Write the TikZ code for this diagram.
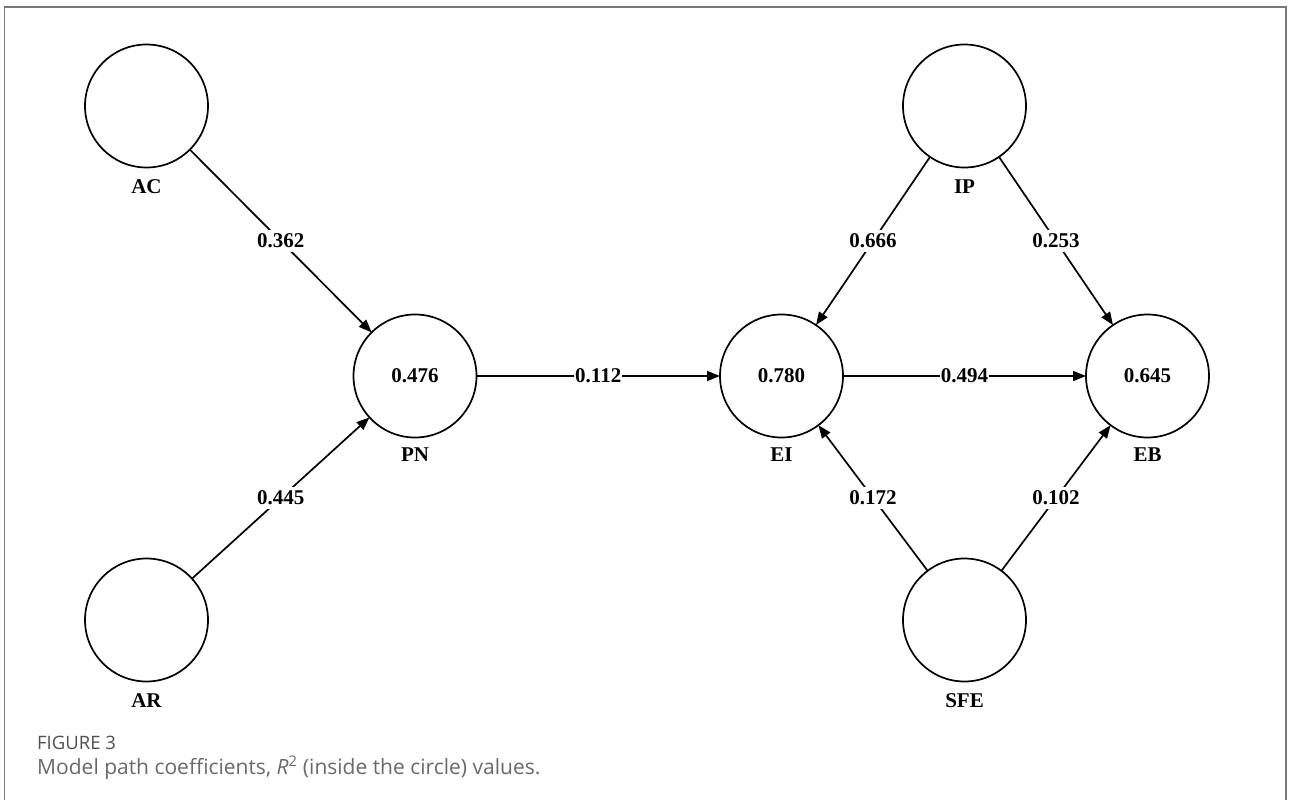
\documentclass[tikz,border=0pt]{standalone}
\usepackage{fontspec}
\setmainfont{Liberation Serif}
\newfontfamily\capfont{Open Sans}
\usetikzlibrary{arrows.meta}
\definecolor{framegray}{RGB}{120,120,120}
\definecolor{capdark}{RGB}{80,80,80}
\definecolor{captext}{RGB}{105,105,105}
\begin{document}
\begin{tikzpicture}[x=1pt,y=-1pt,
  lv/.style={circle,draw,line width=1.7pt,minimum size=123pt,inner sep=0pt,outer sep=0pt,
    font=\fontsize{21}{24}\selectfont\bfseries},
  nm/.style={inner sep=0pt,font=\fontsize{21}{24}\selectfont\bfseries},
  pathline/.style={line width=1.7pt,-{Triangle[length=13pt,width=10pt]}},
  coef/.style={fill=white,inner sep=4pt,font=\fontsize{21}{24}\selectfont\bfseries},
  framestyle/.style={draw=framegray,line width=1.5pt}]
\useasboundingbox (0,0) rectangle (1290,800);
\draw[framestyle] (4.5,800) -- (4.5,7) -- (1286,7) -- (1286,800);

\node[lv] (AC) at (146.5,106) {};
\node[lv] (AR) at (146.5,620) {};
\node[lv] (PN) at (415,376) {0.476};
\node[lv] (EI) at (781.5,376) {0.780};
\node[lv] (EB) at (1147.5,376) {0.645};
\node[lv] (IP) at (964.5,106) {};
\node[lv] (SFE) at (964.5,620) {};

\node[nm] (lAC) at (146.5,187) {AC};
\node[nm] (lAR) at (146.5,701) {AR};
\node[nm] (lPN) at (415,455) {PN};
\node[nm] (lEI) at (781.5,455) {EI};
\node[nm] (lEB) at (1147.5,455) {EB};
\node[nm] (lIP) at (964.5,187) {IP};
\node[nm] (lSFE) at (964.5,701) {SFE};

\draw[pathline] (AC) -- node[coef] {0.362} (PN);
\draw[pathline] (AR) -- node[coef] {0.445} (PN);
\draw[pathline] (PN) -- node[coef,inner sep=1pt] {0.112} (EI);
\draw[pathline] (EI) -- node[coef,inner sep=1pt] {0.494} (EB);
\draw[pathline] (IP) -- node[coef] {0.666} (EI);
\draw[pathline] (IP) -- node[coef] {0.253} (EB);
\draw[pathline] (SFE) -- node[coef] {0.172} (EI);
\draw[pathline] (SFE) -- node[coef] {0.102} (EB);

\node[anchor=base west,inner sep=0pt,text=capdark,font=\capfont\fontsize{18.5}{22}\selectfont] (fig) at (37,749) {FIGURE 3};
\node[anchor=base west,inner sep=0pt,text=captext,font=\capfont\fontsize{21}{25}\selectfont] (cap) at (37,774) {Model path coefficients, \textit{R}\textsuperscript{2} (inside the circle) values.};
\end{tikzpicture}
\end{document}
